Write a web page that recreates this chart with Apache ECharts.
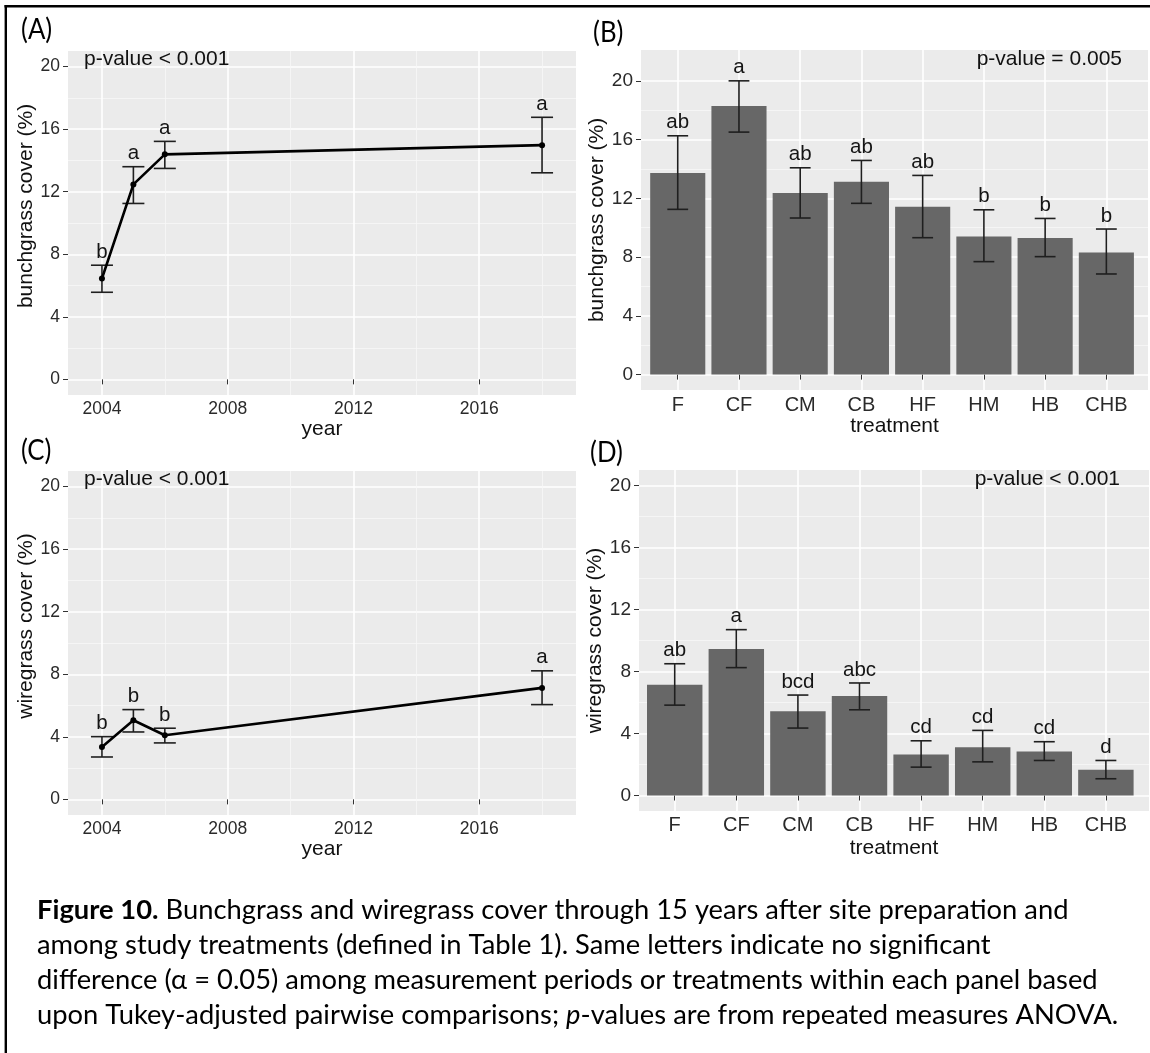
<!DOCTYPE html>
<html>
<head>
<meta charset="utf-8">
<title>Figure 10 – bunchgrass and wiregrass cover</title>
<script src="https://cdn.jsdelivr.net/npm/echarts@6/dist/echarts.min.js"></script>
<style>
  html, body { margin: 0; padding: 0; background: #ffffff; }
  #fig { width: 1150px; height: 1053px; }
</style>
</head>
<body>
<div id="fig"></div>
<script>
// ---------------- data ----------------
const years = [2004, 2005, 2006, 2018];
const yearTicks = [2004, 2008, 2012, 2016];
const yearMinorTicks = [2006, 2010, 2014, 2018];
const coverTicks = [0, 4, 8, 12, 16, 20];
const coverMinorTicks = [2, 6, 10, 14, 18];

// (A) bunchgrass cover by year: mean and error-bar limits
const bunchYearMean = [6.45, 12.47, 14.39, 14.98];
const bunchYearLow = [5.57, 11.25, 13.49, 13.21];
const bunchYearHigh = [7.30, 13.60, 15.22, 16.76];
const bunchYearLetters = ['b', 'a', 'a', 'a'];

// (C) wiregrass cover by year
const wireYearMean = [3.35, 5.06, 4.10, 7.13];
const wireYearLow = [2.71, 4.31, 3.61, 6.06];
const wireYearHigh = [4.01, 5.74, 4.55, 8.22];
const wireYearLetters = ['b', 'b', 'b', 'a'];

// (B) bunchgrass cover by treatment
const treatments = ['F', 'CF', 'CM', 'CB', 'HF', 'HM', 'HB', 'CHB'];
const bunchTrtMean = [13.72, 18.28, 12.36, 13.13, 11.43, 9.41, 9.30, 8.32];
const bunchTrtLow = [11.25, 16.51, 10.66, 11.66, 9.32, 7.69, 8.03, 6.85];
const bunchTrtHigh = [16.26, 20.00, 14.08, 14.58, 13.56, 11.22, 10.63, 9.91];
const bunchTrtLetters = ['ab', 'a', 'ab', 'ab', 'ab', 'b', 'b', 'b'];

// (D) wiregrass cover by treatment
const wireTrtMean = [7.15, 9.45, 5.43, 6.42, 2.65, 3.12, 2.84, 1.66];
const wireTrtLow = [5.83, 8.25, 4.35, 5.53, 1.83, 2.17, 2.26, 1.08];
const wireTrtHigh = [8.50, 10.70, 6.48, 7.26, 3.53, 4.20, 3.47, 2.26];
const wireTrtLetters = ['ab', 'a', 'bcd', 'abc', 'cd', 'cd', 'cd', 'd'];

const pValues = ['p-value < 0.001', 'p-value = 0.005', 'p-value < 0.001', 'p-value < 0.001'];
const panelTags = ['(A)', '(B)', '(C)', '(D)'];

const captionLines = [
  [{ t: 'Figure 10.', s: 'b' }, { t: ' Bunchgrass and wiregrass cover through 15 years after site preparation and' }],
  [{ t: 'among study treatments (defined in Table 1). Same letters indicate no significant' }],
  [{ t: 'difference (\u03B1 = 0.05) among measurement periods or treatments within each panel based' }],
  [{ t: 'upon Tukey-adjusted pairwise comparisons; ' }, { t: 'p', s: 'i' }, { t: '-values are from repeated measures ANOVA.' }]
];

// ---------------- layout & style ----------------
const FONT = '"Liberation Sans", Arial, Helvetica, sans-serif';
const CAP_FONT = 'Lato, "Open Sans", sans-serif';
const PANEL_BG = '#EBEBEB';
const BAR_COLOR = '#676767';
const TICK_TEXT = '#2a2a2a';
const TITLE_TEXT = '#111111';
const TITLE_SIZE = 21;

const grids = [
  { left: 68, top: 51, width: 508, height: 344 },   // A
  { left: 641, top: 50, width: 507, height: 340 },  // B
  { left: 68, top: 471, width: 508, height: 344 },  // C
  { left: 639, top: 470, width: 510, height: 341 }  // D
];
const yearRange = [2002.92, 2019.08];
const trtRanges = [null, [0.4, 8.68], null, [0.42, 8.7]];
const coverRanges = [[-1, 21], [-1.05, 22.1], [-1, 21], [-1, 21]];

function majorSplit() { return { show: true, lineStyle: { color: '#ffffff', width: 1.6 } }; }
function minorSplit() { return { show: true, lineStyle: { color: '#f7f7f7', width: 0.8 } }; }

function yearAxis(g, labelMargin, nameGap) {
  return {
    type: 'value', gridIndex: g, min: yearRange[0], max: yearRange[1],
    axisLine: { show: false },
    axisTick: { show: true, length: 5, customValues: yearTicks, lineStyle: { color: '#333', width: 1 } },
    axisLabel: {
      customValues: yearTicks, fontSize: 17.5, color: TICK_TEXT, fontFamily: FONT, margin: labelMargin,
      formatter: v => String(Math.round(v))
    },
    splitLine: majorSplit(),
    name: 'year', nameLocation: 'middle', nameGap,
    nameTextStyle: { fontSize: TITLE_SIZE, color: TITLE_TEXT, fontFamily: FONT }
  };
}
function yearMinorAxis(g) {
  return {
    type: 'value', gridIndex: g, position: 'top', min: yearRange[0], max: yearRange[1],
    axisLine: { show: false },
    axisTick: { show: false, customValues: yearMinorTicks },
    axisLabel: { show: false, customValues: yearMinorTicks },
    splitLine: minorSplit()
  };
}
function trtAxis(g, labelMargin, nameGap) {
  const pos = treatments.map((t, i) => i + 1);
  return {
    type: 'value', gridIndex: g, min: trtRanges[g][0], max: trtRanges[g][1],
    axisLine: { show: false },
    axisTick: { show: true, length: 5, customValues: pos, lineStyle: { color: '#333', width: 1 } },
    axisLabel: {
      customValues: pos, fontSize: 20, color: TICK_TEXT, fontFamily: FONT, margin: labelMargin,
      formatter: v => treatments[Math.round(v) - 1]
    },
    splitLine: majorSplit(),
    name: 'treatment', nameLocation: 'middle', nameGap,
    nameTextStyle: { fontSize: TITLE_SIZE, color: TITLE_TEXT, fontFamily: FONT }
  };
}
function coverAxis(g, name, gap, shiftUp, size) {
  return {
    type: 'value', gridIndex: g, min: coverRanges[g][0], max: coverRanges[g][1],
    axisLine: { show: false },
    axisTick: { show: true, length: 5, customValues: coverTicks, lineStyle: { color: '#333', width: 1 } },
    axisLabel: { customValues: coverTicks, fontSize: size, color: TICK_TEXT, fontFamily: FONT, margin: 8 },
    splitLine: majorSplit(),
    name, nameLocation: 'middle', nameGap: gap,
    nameTextStyle: { fontSize: TITLE_SIZE, color: TITLE_TEXT, fontFamily: FONT, padding: [0, 0, 0, shiftUp] }
  };
}
function coverMinorAxis(g) {
  return {
    type: 'value', gridIndex: g, position: 'right', min: coverRanges[g][0], max: coverRanges[g][1],
    axisLine: { show: false },
    axisTick: { show: false, customValues: coverMinorTicks },
    axisLabel: { show: false, customValues: coverMinorTicks },
    splitLine: minorSplit()
  };
}

// error bars drawn through the axes of the panel
function errorBars(g, xs, lows, highs, halfWidth, lw) {
  return {
    type: 'custom', xAxisIndex: g, yAxisIndex: g, z: 3, silent: true,
    data: xs.map((x, i) => [x, lows[i], highs[i]]),
    encode: { x: 0, y: [1, 2] },
    renderItem: (params, api) => {
      const x = api.value(0), lo = api.value(1), hi = api.value(2);
      const a = api.coord([x, lo]), b = api.coord([x, hi]);
      const l1 = api.coord([x - halfWidth, hi]), r1 = api.coord([x + halfWidth, hi]);
      const l2 = api.coord([x - halfWidth, lo]), r2 = api.coord([x + halfWidth, lo]);
      const st = { stroke: '#1f1f1f', lineWidth: lw };
      return {
        type: 'group', children: [
          { type: 'line', shape: { x1: a[0], y1: a[1], x2: b[0], y2: b[1] }, style: st },
          { type: 'line', shape: { x1: l1[0], y1: l1[1], x2: r1[0], y2: r1[1] }, style: st },
          { type: 'line', shape: { x1: l2[0], y1: l2[1], x2: r2[0], y2: r2[1] }, style: st }
        ]
      };
    }
  };
}
// significance letters sitting above the upper error-bar limit
function letterSeries(g, xs, highs, letters) {
  return {
    type: 'custom', xAxisIndex: g, yAxisIndex: g, z: 4, silent: true,
    data: xs.map((x, i) => [x, highs[i]]),
    encode: { x: 0, y: 1 },
    renderItem: (params, api) => {
      const p = api.coord([api.value(0), api.value(1)]);
      return {
        type: 'text', x: p[0], y: p[1] - 2.5,
        style: {
          text: letters[params.dataIndex], fontSize: 20.5, fontFamily: FONT, fill: '#151515',
          align: 'center', verticalAlign: 'bottom'
        }
      };
    }
  };
}
function meanLine(g, values) {
  return {
    type: 'line', xAxisIndex: g, yAxisIndex: g, z: 5, silent: true,
    data: years.map((y, i) => [y, values[i]]),
    lineStyle: { color: '#000', width: 2.6 },
    symbol: 'circle', symbolSize: 6, showSymbol: true,
    itemStyle: { color: '#000' }, animation: false
  };
}
function bars(g, values) {
  const r = trtRanges[g];
  const bw = 0.9 * grids[g].width / (r[1] - r[0]);
  return {
    type: 'bar', xAxisIndex: g, yAxisIndex: g, z: 2, silent: true,
    data: values.map((v, i) => [i + 1, v]),
    barWidth: bw, itemStyle: { color: BAR_COLOR }
  };
}

// caption: a tall humanist face, horizontally condensed so lines span the text block
const CAP_SIZE = 27;
const captionTargets = [1027, 959, 1066, 1075];
function captionScaleX() {
  const ctx = document.createElement('canvas').getContext('2d');
  let measured = 0, target = 0;
  captionLines.forEach((segs, i) => {
    segs.forEach(s => {
      ctx.font = (s.s === 'b' ? 'bold ' : s.s === 'i' ? 'italic ' : '') + CAP_SIZE + 'px ' + CAP_FONT;
      measured += ctx.measureText(s.t).width;
    });
    target += captionTargets[i];
  });
  return target / measured;
}
const capScaleX = captionScaleX();
const captionBaselines = [918, 953, 988, 1023];

const graphics = [];
// figure frame (top and left rules)
graphics.push({ type: 'line', z: 50, shape: { x1: 4.5, y1: 6.2, x2: 1150, y2: 6.2 }, style: { stroke: '#000', lineWidth: 2.4 } });
graphics.push({ type: 'line', z: 50, shape: { x1: 5.8, y1: 5, x2: 5.8, y2: 1053 }, style: { stroke: '#000', lineWidth: 2.4 } });

// panel tags
const TAG_SIZE = 28;
const tagPos = [[21, 38], [593, 41.5], [21, 459], [590, 461]];
panelTags.forEach((t, i) => {
  graphics.push({
    type: 'text', z: 50, x: tagPos[i][0], y: tagPos[i][1] - 0.3 * TAG_SIZE, scaleX: 0.92,
    style: { text: t, fontSize: TAG_SIZE, fontFamily: CAP_FONT, fill: '#000', align: 'left', verticalAlign: 'middle' }
  });
});

// p-value annotations (baseline on the 20 % grid line)
const pvPos = [[84, 59.5, 'left'], [1122, 59.5, 'right'], [84, 479.5, 'left'], [1120, 479.5, 'right']];
pValues.forEach((t, i) => {
  graphics.push({
    type: 'text', z: 50, x: pvPos[i][0], y: pvPos[i][1],
    style: { text: t, fontSize: 21, fontFamily: FONT, fill: '#111', align: pvPos[i][2], verticalAlign: 'middle' }
  });
});

// caption
captionLines.forEach((segs, i) => {
  const text = segs.map(s => s.s ? '{' + s.s + '|' + s.t + '}' : s.t).join('');
  graphics.push({
    type: 'text', z: 50, x: 37, y: captionBaselines[i] - 0.3 * CAP_SIZE, scaleX: capScaleX,
    style: {
      text, fontSize: CAP_SIZE, fontFamily: CAP_FONT, fill: '#000', align: 'left', verticalAlign: 'middle',
      rich: {
        b: { fontSize: CAP_SIZE, fontFamily: CAP_FONT, fontWeight: 'bold', fill: '#000' },
        i: { fontSize: CAP_SIZE, fontFamily: CAP_FONT, fontStyle: 'italic', fill: '#000' }
      }
    }
  });
});

const option = {
  animation: false,
  backgroundColor: '#ffffff',
  grid: grids.map(g => Object.assign({ show: true, backgroundColor: PANEL_BG, borderWidth: 0, containLabel: false }, g)),
  xAxis: [
    yearAxis(0, 5, 22.5), trtAxis(1, 5, 24.5), yearAxis(2, 5, 22.5), trtAxis(3, 4, 26.5),
    yearMinorAxis(0), yearMinorAxis(2)
  ],
  yAxis: [
    coverAxis(0, 'bunchgrass cover (%)', 25.5, 34, 17.5),
    coverAxis(1, 'bunchgrass cover (%)', 29.5, 0, 19),
    coverAxis(2, 'wiregrass cover (%)', 25.5, 34, 17.5),
    coverAxis(3, 'wiregrass cover (%)', 30.5, 0, 19),
    coverMinorAxis(0), coverMinorAxis(1), coverMinorAxis(2), coverMinorAxis(3)
  ],
  series: [
    errorBars(0, years, bunchYearLow, bunchYearHigh, 0.35, 1.6),
    meanLine(0, bunchYearMean),
    letterSeries(0, years, bunchYearHigh, bunchYearLetters),

    bars(1, bunchTrtMean),
    errorBars(1, treatments.map((t, i) => i + 1), bunchTrtLow, bunchTrtHigh, 0.17, 1.6),
    letterSeries(1, treatments.map((t, i) => i + 1), bunchTrtHigh, bunchTrtLetters),

    errorBars(2, years, wireYearLow, wireYearHigh, 0.35, 1.6),
    meanLine(2, wireYearMean),
    letterSeries(2, years, wireYearHigh, wireYearLetters),

    bars(3, wireTrtMean),
    errorBars(3, treatments.map((t, i) => i + 1), wireTrtLow, wireTrtHigh, 0.17, 1.6),
    letterSeries(3, treatments.map((t, i) => i + 1), wireTrtHigh, wireTrtLetters)
  ],
  graphic: graphics
};

const chart = echarts.init(document.getElementById('fig'), null, { renderer: 'canvas' });
chart.setOption(option);
</script>
</body>
</html>
